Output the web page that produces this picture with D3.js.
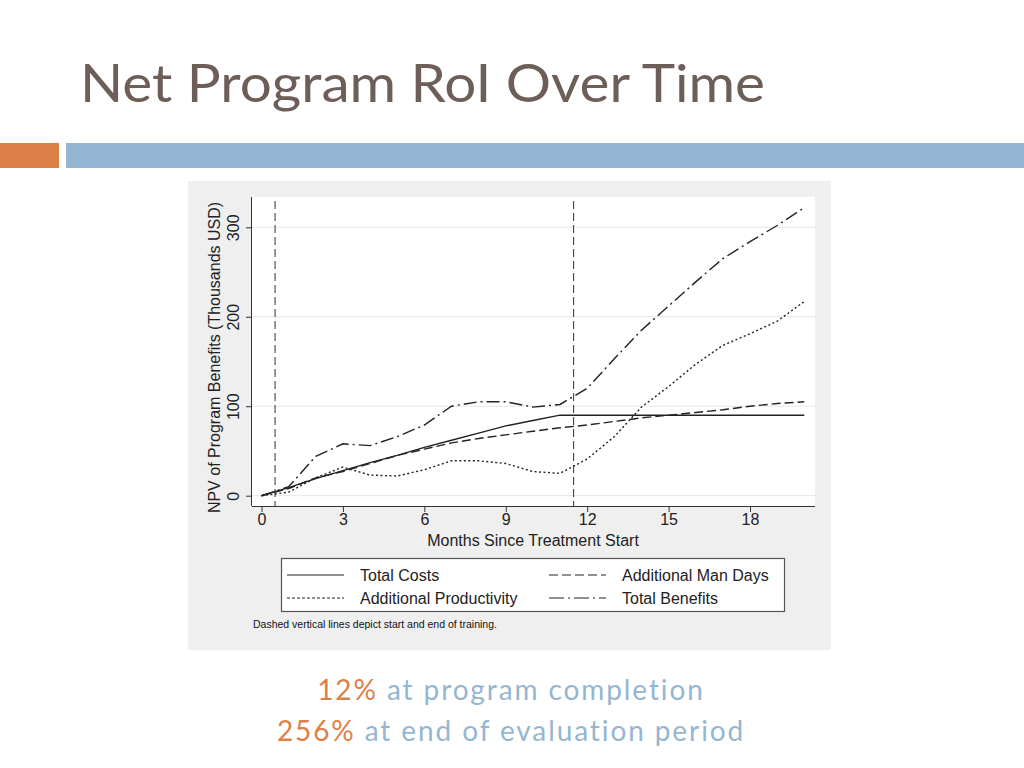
<!DOCTYPE html>
<html><head><meta charset="utf-8">
<script src="https://cdn.jsdelivr.net/npm/d3@7"></script>
<style>body{margin:0;background:#fff}svg{display:block}</style>
</head><body>
<svg id="c" width="1024" height="768"></svg>
<script>
const months = [0,1,2,3,4,5,6,7,8,9,10,11,12,13,14,15,16,17,18,19,20];
const totalCosts = [0,9,19,28,37,45,54,62,70,78,84,90,90,90,90,90,90,90,90,90,90];
const manDays = [0,8,20,27,36,45,52,59,64,68,72,76,79,83,87,90,93,96,100,103,105];
const productivity = [0,4,20,32,23,22,29,39,39,36,27,25,41,66,99,122,147,168,181,195,217];
const totalBenefits = [0,10,44,58,56,66,79,100,105,105,99,102,120,153,185,212,239,265,284,302,322];
const xTicks = [0,3,6,9,12,15,18];
const yTicks = [0,100,200,300];
const trainingLines = [0.5, 11.5];
const seriesNames = ["Total Costs","Additional Man Days","Additional Productivity","Total Benefits"];

const svg = d3.select("#c");
// header decorations
svg.append("rect").attr("x",0).attr("y",143).attr("width",59).attr("height",25).attr("fill","#dd8047");
svg.append("rect").attr("x",66).attr("y",143).attr("width",958).attr("height",25).attr("fill","#94b6d2");
svg.append("text").attr("x",80).attr("y",102).attr("font-family","Lato, 'Open Sans', sans-serif")
  .attr("font-size",52).attr("fill","#6e5e58").attr("textLength",685).attr("lengthAdjust","spacingAndGlyphs")
  .text("Net Program RoI Over Time");

// chart panel
svg.append("rect").attr("x",188).attr("y",181).attr("width",643).attr("height",469).attr("fill","#efefef");
const L=252,R=815,T=197,B=506;
svg.append("rect").attr("x",L).attr("y",T).attr("width",R-L).attr("height",B-T).attr("fill","#fff");

const x = d3.scaleLinear().domain([0,18]).range([261.5,750]);
const y = d3.scaleLinear().domain([0,300]).range([495.7,227.3]);

const cf = "'Liberation Sans Narrow','Arial Narrow','Liberation Sans',sans-serif";
// gridlines
svg.append("g").selectAll("line").data(yTicks).join("line")
  .attr("x1",L).attr("x2",R).attr("y1",d=>y(d)).attr("y2",d=>y(d))
  .attr("stroke","#e6e6e6").attr("stroke-width",1);

// axes
const xAxis = svg.append("g").attr("transform",`translate(0,${B})`)
  .call(d3.axisBottom(x).tickValues(xTicks).tickSize(6).tickSizeOuter(0));
xAxis.select(".domain").attr("d",`M${L},0.5H${R}`).attr("stroke","#333");
xAxis.selectAll(".tick line").attr("stroke","#333");
xAxis.selectAll(".tick text").attr("font-family",cf).attr("font-size",16).attr("fill","#222").attr("dy","0.6em");

const yAxis = svg.append("g").attr("transform",`translate(${L},0)`)
  .call(d3.axisLeft(y).tickValues(yTicks).tickSize(6).tickSizeOuter(0));
yAxis.select(".domain").attr("d",`M-0.5,${T}V${B}`).attr("stroke","#333");
yAxis.selectAll(".tick line").attr("stroke","#333");
yAxis.selectAll(".tick text").attr("font-family",cf).attr("font-size",16).attr("fill","#222")
  .attr("x",null).attr("dy",null)
  .attr("text-anchor","middle").attr("transform","translate(-13,0) rotate(-90)");

// axis titles
svg.append("text").attr("x",533).attr("y",546).attr("text-anchor","middle")
  .attr("font-family",cf).attr("font-size",16).attr("fill","#222").text("Months Since Treatment Start");
svg.append("text").attr("transform",`translate(220,${(T+B)/2+6}) rotate(-90)`).attr("text-anchor","middle")
  .attr("font-family",cf).attr("font-size",16).attr("fill","#222").text("NPV of Program Benefits (Thousands USD)");

// training lines
svg.append("g").selectAll("line").data(trainingLines).join("line")
  .attr("x1",d=>x(d)).attr("x2",d=>x(d)).attr("y1",T+4).attr("y2",B)
  .attr("stroke","#444").attr("stroke-width",1.1).attr("stroke-dasharray","8,4");

// series
const styles = [
  {data:totalCosts, dash:null, w:1.4},
  {data:manDays, dash:"9,4", w:1.4},
  {data:productivity, dash:"2,2.5", w:1.4},
  {data:totalBenefits, dash:"13,4,2,4", w:1.4}
];
const line = d3.line().x((d,i)=>x(months[i])).y(d=>y(d));
svg.append("g").selectAll("path").data(styles).join("path")
  .attr("d",s=>line(s.data)).attr("fill","none").attr("stroke","#222")
  .attr("stroke-width",s=>s.w).attr("stroke-dasharray",s=>s.dash);

// legend
svg.append("rect").attr("x",281.5).attr("y",558.5).attr("width",503).attr("height",53)
  .attr("fill","#fff").attr("stroke","#555").attr("stroke-width",1.2);
const legItems = [
  {name:seriesNames[0], s:styles[0], lx:287, ty:575},
  {name:seriesNames[1], s:styles[1], lx:549, ty:575},
  {name:seriesNames[2], s:{dash:"3,2"}, lx:287, ty:598},
  {name:seriesNames[3], s:{dash:"15,4,2,4"}, lx:549, ty:598}
];
const lg = svg.append("g").selectAll("g").data(legItems).join("g");
lg.append("line").attr("x1",d=>d.lx).attr("x2",d=>d.lx+57).attr("y1",d=>d.ty).attr("y2",d=>d.ty)
  .attr("stroke","#222").attr("stroke-width",1.2).attr("stroke-dasharray",d=>d.s.dash);
lg.append("text").attr("x",d=>d.lx+73).attr("y",d=>d.ty+6).attr("font-family",cf).attr("font-size",16)
  .attr("fill","#222").text(d=>d.name);

svg.append("text").attr("x",253).attr("y",628).attr("font-family",cf).attr("font-size",10.5)
  .attr("fill","#111").text("Dashed vertical lines depict start and end of training.");

// bottom summary
const bf = "Lato, 'Open Sans', sans-serif";
const t1 = svg.append("text").attr("x",511).attr("y",700).attr("text-anchor","middle")
  .attr("font-family",bf).attr("font-size",28).attr("letter-spacing",1.9);
t1.append("tspan").attr("fill","#dd8047").text("12%");
t1.append("tspan").attr("fill","#94b6d2").text(" at program completion");
const t2 = svg.append("text").attr("x",511).attr("y",741).attr("text-anchor","middle")
  .attr("font-family",bf).attr("font-size",28).attr("letter-spacing",1.9);
t2.append("tspan").attr("fill","#dd8047").text("256%");
t2.append("tspan").attr("fill","#94b6d2").text(" at end of evaluation period");
</script>
</body></html>
